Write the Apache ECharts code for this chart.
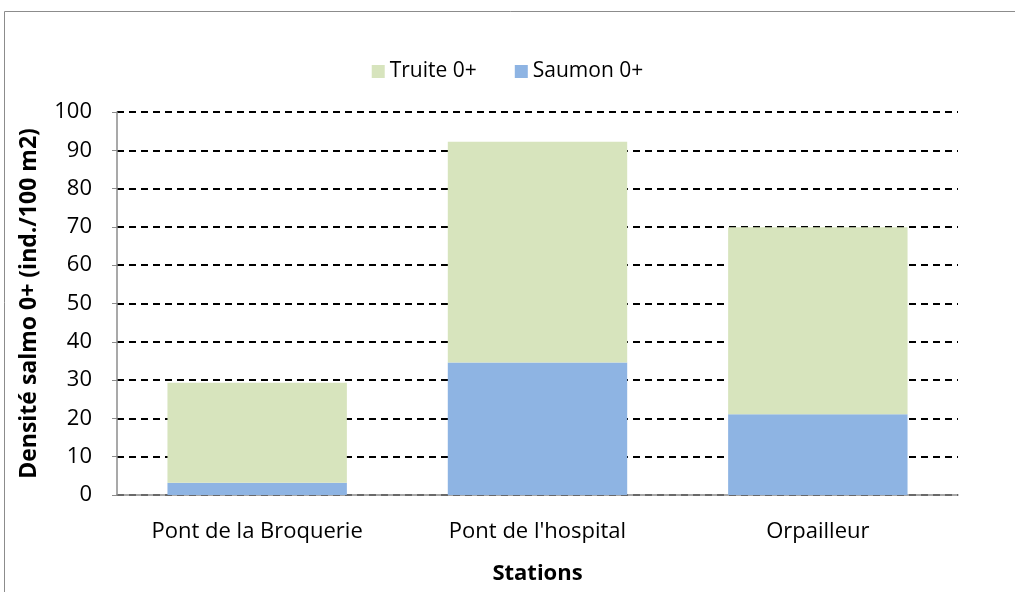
<!DOCTYPE html>
<html>
<head>
<meta charset="utf-8">
<script src="https://cdn.jsdelivr.net/npm/echarts@6/dist/echarts.min.js"></script>
<style>
  html, body { margin: 0; padding: 0; background: #fff; }
  #chart { width: 1015px; height: 592px; }
</style>
</head>
<body>
<div id="chart"></div>
<script>
// stations et densités (ind./100 m2)
var stations = ['Pont de la Broquerie', "Pont de l'hospital", 'Orpailleur']
var saumon = [3.2, 34.6, 21.1]
var truite = [26.1, 57.6, 48.8]
var yTicks = { min: 0, max: 100, interval: 10 }

var chart = echarts.init(document.getElementById('chart'))
var font = 'Open Sans, Noto Sans, sans-serif'

chart.setOption({
  animation: false,
  textStyle: { fontFamily: font },
  graphic: [{ // cadre du graphique
    type: 'rect',
    shape: { x: 4.5, y: 11.5, width: 1020, height: 600 },
    style: { fill: 'none', stroke: '#8c8c8c', lineWidth: 1 }
  }],
  legend: {
    data: ['Truite 0+', 'Saumon 0+'],
    top: 56,
    left: 'center',
    itemWidth: 13,
    itemHeight: 13,
    itemGap: 38,
    icon: 'rect',
    textStyle: { fontSize: 21, color: '#000', fontFamily: font }
  },
  grid: { left: 117, right: 57, top: 112, bottom: 97 },
  xAxis: {
    type: 'category',
    data: stations,
    name: 'Stations',
    nameLocation: 'middle',
    nameGap: 68,
    nameTextStyle: { fontSize: 22, fontWeight: 'bold', color: '#000' },
    axisLine: { lineStyle: { color: '#8c8c8c', width: 1.5 } },
    axisTick: { show: false },
    axisLabel: { fontSize: 22, color: '#000', margin: 26 }
  },
  yAxis: {
    type: 'value',
    min: yTicks.min,
    max: yTicks.max,
    interval: yTicks.interval,
    name: 'Densité salmo 0+ (ind./100 m2)',
    nameLocation: 'middle',
    nameGap: 76,
    nameTextStyle: { fontSize: 23, fontWeight: 'bold', color: '#000' },
    axisLine: { show: true, lineStyle: { color: '#8c8c8c', width: 1.5 } },
    axisTick: { show: true, length: 5, lineStyle: { color: '#8c8c8c' } },
    axisLabel: { fontSize: 22, color: '#000', margin: 25 },
    splitLine: { lineStyle: { color: '#000', type: [7, 5], width: 2 } }
  },
  series: [{
    name: 'Saumon 0+',
    type: 'bar',
    stack: 'densite',
    barWidth: '64%',
    itemStyle: { color: '#8eb4e3' },
    data: saumon
  }, {
    name: 'Truite 0+',
    type: 'bar',
    stack: 'densite',
    itemStyle: { color: '#d7e4bd' },
    data: truite
  }]
})
</script>
</body>
</html>
